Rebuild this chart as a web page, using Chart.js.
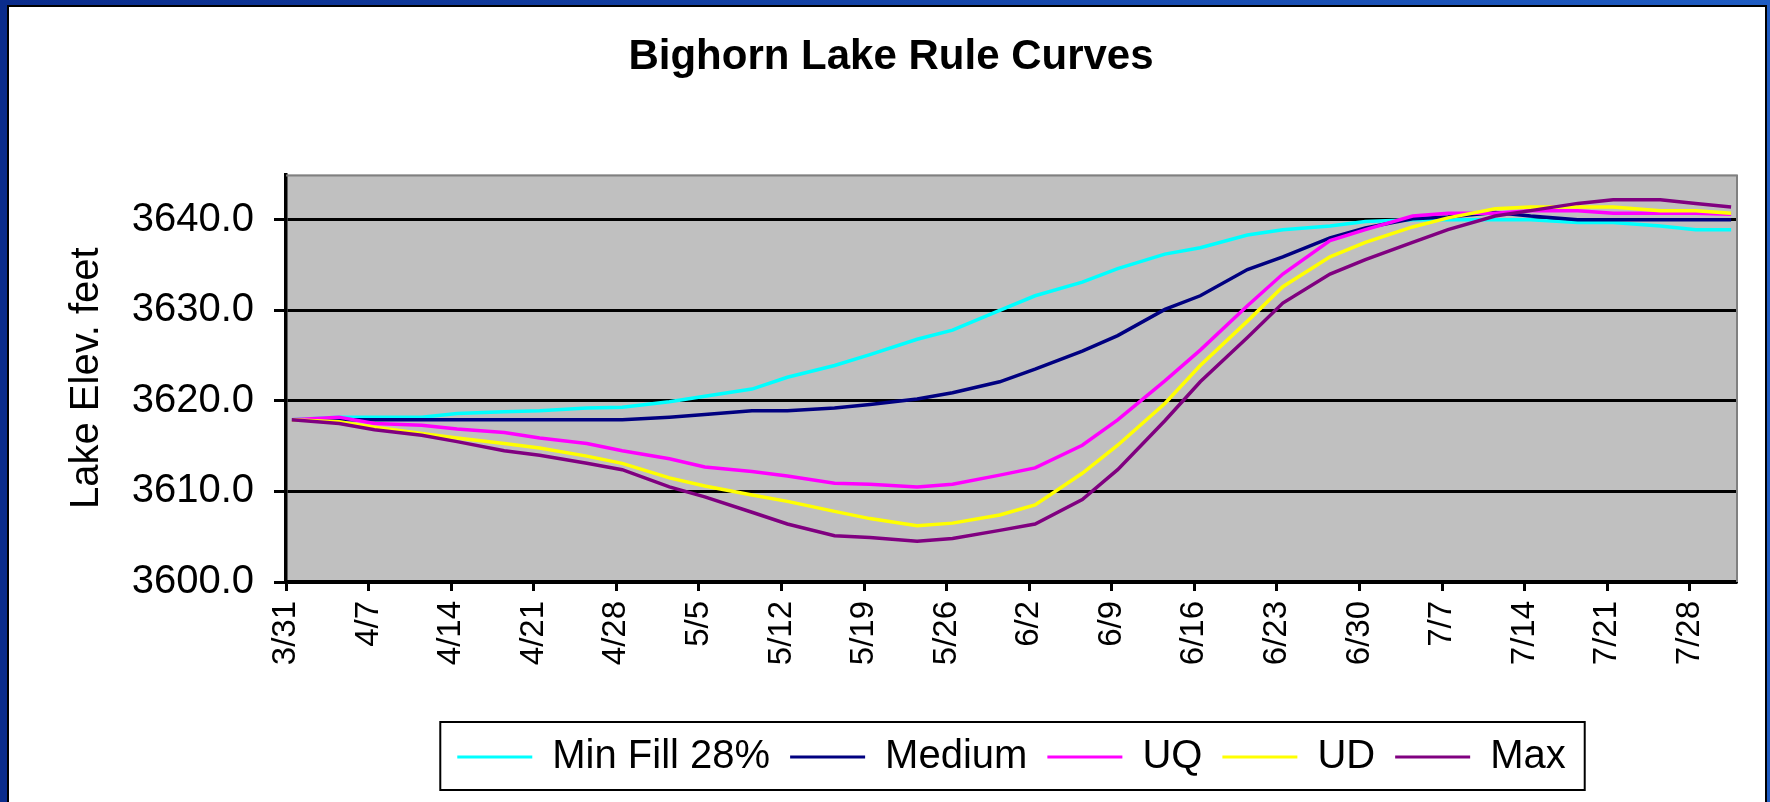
<!DOCTYPE html>
<html>
<head>
<meta charset="utf-8">
<title>Bighorn Lake Rule Curves</title>
<script src="https://cdn.jsdelivr.net/npm/chart.js@4"></script>
<style>
    html, body { margin: 0; padding: 0; width: 1770px; height: 802px; overflow: hidden; }
    body { position: relative; background: linear-gradient(to right, #0a2c8c, #1f5cc2); }
    #panel { position: absolute; left: 7px; top: 5px; width: 1756px; height: 820px;
             background: #fff; border: 2px solid #000; border-bottom: none; }
    #chart { position: absolute; left: 0; top: 0; }
</style>
</head>
<body>
<div id="panel"></div>
<canvas id="chart" width="1770" height="802"></canvas>
<script>
// ===== DATA =====
// day index from 3/31 (one category per day, 3/31 .. 7/31)
const days = [0, 4, 7, 11, 14, 18, 21, 25, 28, 32, 35, 39, 42, 46, 49, 53, 56, 60,
    63, 67, 70, 74, 77, 81, 84, 88, 91, 95, 98, 102, 105, 109, 112, 116, 119, 122];
const tickLabels = ["3/31", "4/7", "4/14", "4/21", "4/28", "5/5", "5/12", "5/19", "5/26",
    "6/2", "6/9", "6/16", "6/23", "6/30", "7/7", "7/14", "7/21", "7/28"];

const minFill = [3617.9, 3618.2, 3618.2, 3618.2, 3618.6, 3618.8, 3618.9, 3619.2, 3619.3,
    3619.9, 3620.5, 3621.3, 3622.6, 3623.9, 3625.1, 3626.8, 3627.8, 3630.0, 3631.6, 3633.1,
    3634.6, 3636.2, 3636.9, 3638.3, 3638.9, 3639.3, 3639.8, 3640.0, 3640.0, 3640.0, 3640.0,
    3639.7, 3639.7, 3639.3, 3638.9, 3638.9];
const medium = [3617.9, 3617.9, 3617.9, 3617.9, 3617.9, 3617.9, 3617.9, 3617.9, 3617.9,
    3618.2, 3618.5, 3618.9, 3618.9, 3619.2, 3619.6, 3620.2, 3620.9, 3622.1, 3623.5, 3625.5,
    3627.2, 3630.1, 3631.6, 3634.5, 3635.9, 3638.0, 3639.1, 3640.1, 3640.3, 3640.8, 3640.4,
    3640.0, 3640.0, 3640.0, 3640.0, 3640.0];
const uq = [3617.9, 3618.2, 3617.5, 3617.3, 3616.9, 3616.5, 3615.9, 3615.3, 3614.5,
    3613.6, 3612.7, 3612.2, 3611.7, 3610.9, 3610.8, 3610.5, 3610.8, 3611.8, 3612.6, 3615.1,
    3617.9, 3622.2, 3625.6, 3630.5, 3634.0, 3637.7, 3638.9, 3640.4, 3640.7, 3640.7, 3641.0,
    3641.0, 3640.7, 3640.7, 3640.7, 3640.6];
const ud = [3617.9, 3617.7, 3617.1, 3616.4, 3615.9, 3615.3, 3614.8, 3613.9, 3613.1,
    3611.5, 3610.6, 3609.6, 3608.9, 3607.8, 3607.0, 3606.2, 3606.5, 3607.4, 3608.5, 3612.0,
    3615.1, 3619.7, 3623.9, 3628.8, 3632.6, 3635.9, 3637.5, 3639.2, 3640.2, 3641.2, 3641.4,
    3641.4, 3641.4, 3641.0, 3641.0, 3640.7];
const maxCurve = [3617.9, 3617.5, 3616.8, 3616.2, 3615.5, 3614.5, 3614.0, 3613.1, 3612.4,
    3610.5, 3609.4, 3607.7, 3606.4, 3605.1, 3604.9, 3604.5, 3604.8, 3605.7, 3606.4, 3609.1,
    3612.4, 3617.8, 3622.1, 3627.0, 3630.8, 3634.0, 3635.6, 3637.5, 3638.9, 3640.4, 3641.0,
    3641.8, 3642.2, 3642.2, 3641.8, 3641.4];

// points sit in the middle of their day
const toPoints = vals => vals.map((v, i) => ({ x: days[i] + 0.5, y: v }));

const FONT = "'Liberation Sans', Arial, sans-serif";
Chart.defaults.font.family = FONT;
Chart.defaults.color = "#000";

function line(label, vals, color, order) {
    return {
        label: label,
        data: toPoints(vals),
        borderColor: color,
        backgroundColor: color,
        borderWidth: 3.5,
        pointRadius: 0,
        tension: 0,
        order: order
    };
}

// ===== PLUGINS =====
const plotFrame = {
    id: "plotFrame",
    beforeDraw(chart) {
        const { ctx, chartArea: a } = chart;
        ctx.save();
        ctx.fillStyle = "#c0c0c0";
        ctx.fillRect(a.left, a.top, a.width, a.height);
        ctx.restore();
    },
    beforeDatasetsDraw(chart) {
        const { ctx, chartArea: a } = chart;
        ctx.save();
        ctx.strokeStyle = "#808080";
        ctx.lineWidth = 2;
        ctx.beginPath();
        ctx.moveTo(a.left, a.top + 1);
        ctx.lineTo(a.right, a.top + 1);
        ctx.moveTo(a.right, a.top);
        ctx.lineTo(a.right, a.bottom);
        ctx.stroke();
        ctx.restore();
    },
    afterDraw(chart) {
        const boxes = chart.legend.legendHitBoxes;
        if (!boxes || !boxes.length) return;
        const left = Math.min(...boxes.map(b => b.left)) - 17;
        const right = Math.max(...boxes.map(b => b.left + b.width)) + 19;
        const top = boxes[0].top - 15;
        const bottom = boxes[0].top + boxes[0].height + 13;
        const ctx = chart.ctx;
        ctx.save();
        ctx.strokeStyle = "#000";
        ctx.lineWidth = 2;
        ctx.strokeRect(left, top, right - left, bottom - top);
        ctx.restore();
    }
};

// ===== CHART =====
new Chart(document.getElementById("chart"), {
    type: "line",
    data: {
        datasets: [
            line("Min Fill 28%", minFill, "#00ffff", 5),
            line("Medium", medium, "#000080", 4),
            line("UQ", uq, "#ff00ff", 3),
            line("UD", ud, "#ffff00", 2),
            line("Max", maxCurve, "#800080", 1)
        ]
    },
    options: {
        responsive: false,
        animation: false,
        devicePixelRatio: 1,
        layout: { padding: { left: 45, right: 33, top: 0, bottom: 15 } },
        plugins: {
            title: {
                display: true,
                text: "Bighorn Lake Rule Curves",
                color: "#000",
                font: { size: 42, weight: "bold" },
                padding: { top: 32, bottom: 92 }
            },
            legend: {
                position: "bottom",
                fullSize: false,
                labels: {
                    boxWidth: 75,
                    boxHeight: 3,
                    padding: 20,
                    color: "#000",
                    font: { size: 40 },
                    sort: (a, b) => a.datasetIndex - b.datasetIndex,
                    generateLabels: chart =>
                        Chart.defaults.plugins.legend.labels.generateLabels(chart)
                            .map(l => Object.assign(l, { lineWidth: 0 }))
                }
            },
            tooltip: { enabled: false }
        },
        scales: {
            x: {
                type: "linear",
                min: 0,
                max: 123,
                afterBuildTicks: s => { s.ticks = s.ticks.filter(t => t.value % 7 === 0 && t.value <= 119); },
                afterFit: s => { s.height = 135; },
                ticks: {
                    stepSize: 7,
                    autoSkip: false,
                    minRotation: 90,
                    maxRotation: 90,
                    padding: 10,
                    color: "#000",
                    font: { size: 33 },
                    callback: v => tickLabels[v / 7]
                },
                grid: { drawOnChartArea: false, tickLength: 9, tickWidth: 3, tickColor: "#000" },
                border: { color: "#000", width: 3.5 }
            },
            y: {
                min: 3600,
                max: 3645,
                afterBuildTicks: s => { s.ticks = s.ticks.filter(t => t.value % 10 === 0); },
                afterFit: s => { s.width = 241; },
                ticks: {
                    stepSize: 10,
                    padding: 20,
                    color: "#000",
                    font: { size: 40 },
                    callback: v => v.toFixed(1)
                },
                title: {
                    display: true,
                    text: "Lake Elev. feet",
                    color: "#000",
                    font: { size: 40 },
                    padding: { top: 18, bottom: 0 }
                },
                grid: { color: "#000", lineWidth: 3, tickLength: 12, tickWidth: 3, tickColor: "#000" },
                border: { color: "#000", width: 3.5 }
            }
        }
    },
    plugins: [plotFrame]
});
</script>
</body>
</html>
